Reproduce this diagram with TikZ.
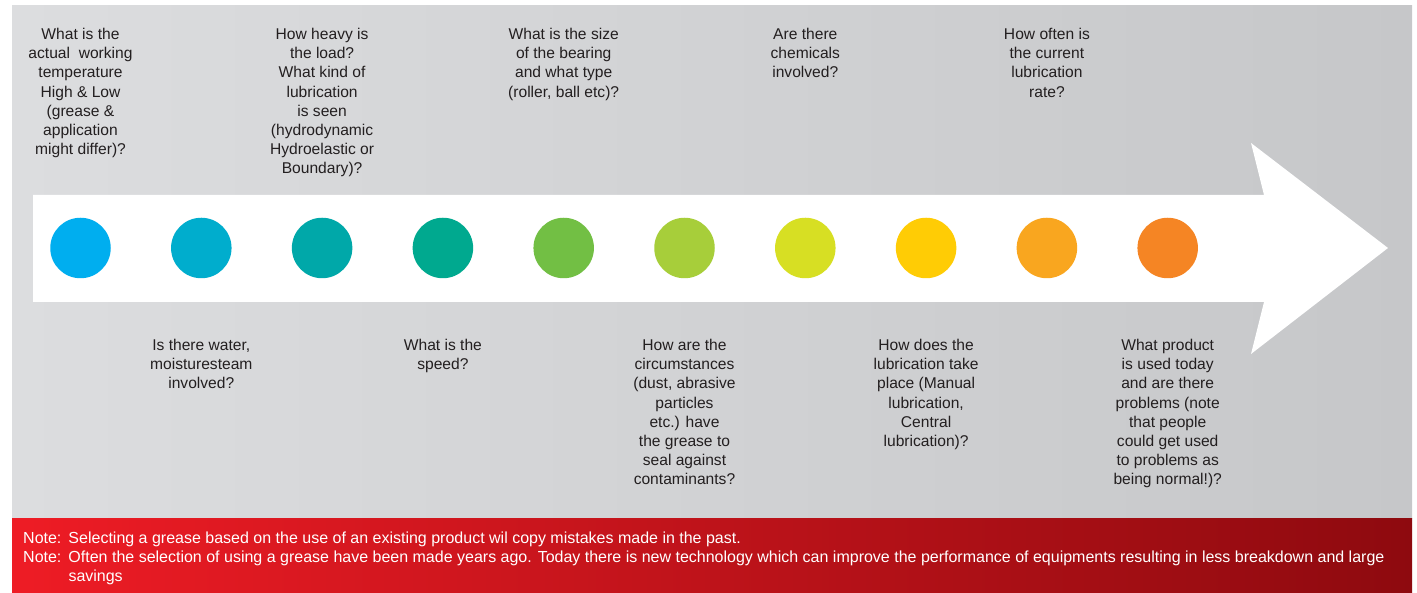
\documentclass[tikz,border=0pt]{standalone}
\usepackage{fontspec}
\setmainfont{Liberation Sans}
\usetikzlibrary{positioning}

\definecolor{bgleft}{HTML}{DCDDDF}
\definecolor{bgright}{HTML}{C6C7C9}
\definecolor{redleft}{HTML}{EE1C25}
\definecolor{redright}{HTML}{8E0A0F}
\definecolor{qgray}{HTML}{231F20}
\definecolor{dot1}{HTML}{00AEEF}
\definecolor{dot2}{HTML}{00ADCD}
\definecolor{dot3}{HTML}{00A8A9}
\definecolor{dot4}{HTML}{00A98F}
\definecolor{dot5}{HTML}{72BF44}
\definecolor{dot6}{HTML}{A7CE3A}
\definecolor{dot7}{HTML}{D7DF23}
\definecolor{dot8}{HTML}{FFCC05}
\definecolor{dot9}{HTML}{F9A61F}
\definecolor{dot10}{HTML}{F58524}

\begin{document}
\begin{tikzpicture}[x=1pt, y=1pt,
  dot/.style={circle, minimum size=60.5pt, inner sep=0pt},
  qtext/.style={font=\fontsize{15.6}{19.2}\selectfont, align=center,
                text=qgray, inner sep=0pt, anchor=north},
  notes/.style={font=\fontsize{16}{19}\selectfont, align=left,
                text=white, inner sep=0pt, anchor=north west}]
  \useasboundingbox (0,0) rectangle (1417,593);
  % background panels
  \shade[left color=bgleft, right color=bgright] (12,74) rectangle (1412,587);
  \shade[left color=redleft, right color=redright] (12,0) rectangle (1412,74);
  % big arrow
  \fill[white] (33,291) -- (1264,291) -- (1251,239) -- (1388,345)
    -- (1251,450) -- (1264,398) -- (33,398) -- cycle;
  % dots
  \foreach \c [count=\i] in {dot1,dot2,dot3,dot4,dot5,dot6,dot7,dot8,dot9,dot10}
    \node[dot, fill=\c] (c\i) at ({80.5+120.8*(\i-1)},345) {};
  \coordinate (toprow) at (0,565);
  \coordinate (botrow) at (0,254);
  % questions above
  \node[qtext] (q1) at (c1 |- toprow) {What is the\\actual\ \ working\\temperature\\High \& Low\\(grease \&\\application\\might differ)?};
  \node[qtext] (q3) at (c3 |- toprow) {How heavy is\\the load?\\What kind of\\lubrication\\is seen\\(hydrodynamic\\Hydroelastic or\\Boundary)?};
  \node[qtext] (q5) at (c5 |- toprow) {What is the size\\of the bearing\\and what type\\(roller, ball etc)?};
  \node[qtext] (q7) at (c7 |- toprow) {Are there\\chemicals\\involved?};
  \node[qtext] (q9) at (c9 |- toprow) {How often is\\the current\\lubrication\\rate?};
  % questions below
  \node[qtext] (q2) at (c2 |- botrow) {Is there water,\\moisturesteam\\involved?};
  \node[qtext] (q4) at (c4 |- botrow) {What is the\\speed?};
  \node[qtext] (q6) at (c6 |- botrow) {How are the\\circumstances\\(dust, abrasive\\particles\\etc.) have\\the grease to\\seal against\\contaminants?};
  \node[qtext] (q8) at (c8 |- botrow) {How does the\\lubrication take\\place (Manual\\lubrication,\\Central\\lubrication)?};
  \node[qtext] (q10) at (c10 |- botrow) {What product\\is used today\\and are there\\problems (note\\that people\\could get used\\to problems as\\being normal!)?};
  % notes
  \node[notes] (nt) at (23,61) {\makebox[45.3pt][l]{Note:}Selecting a grease based on the use of an existing product wil copy mistakes made in the past.\\
    \makebox[45.3pt][l]{Note:}Often the selection of using a grease have been made years ago. Today there is new technology which can improve the performance of equipments resulting in less breakdown and large\\
    \hspace*{45.3pt}savings};
\end{tikzpicture}
\end{document}
